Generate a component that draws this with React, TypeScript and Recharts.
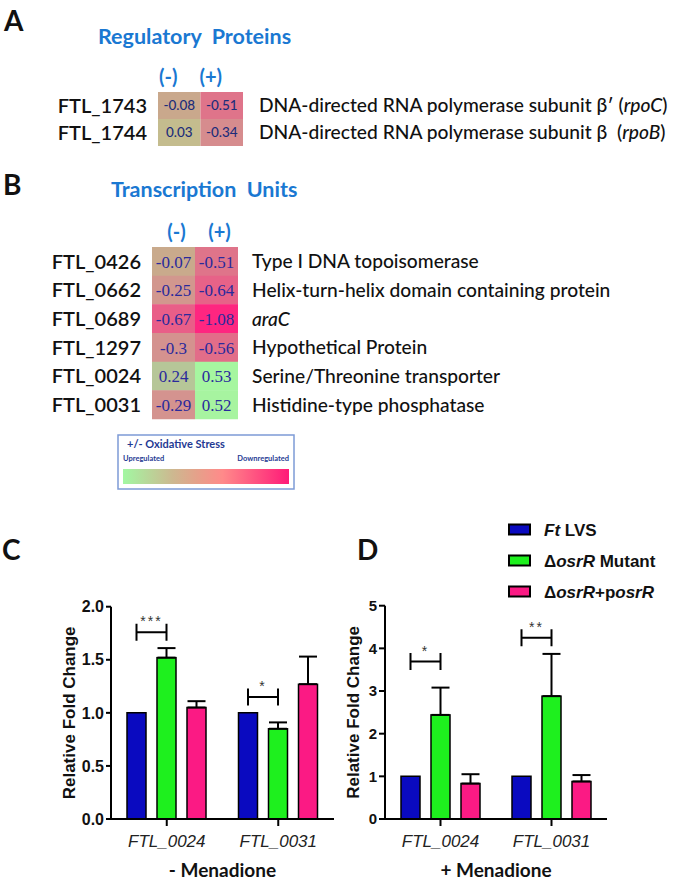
import React from "react";
import { BarChart, Bar, XAxis, YAxis, Cell, LabelList, ErrorBar } from "recharts";

const LATO = "Lato, 'Open Sans', sans-serif";
const ARIAL = "'Liberation Sans', Arial, sans-serif";
const SERIF = "'Liberation Serif', 'Times New Roman', serif";
const TITLE_BLUE = "#1a78d2";
const NAVY = "#1c2d7a";

// heat map columns
const stressCols = ["(-)", "(+)"];

// A - regulatory proteins (log fold change)
const regGenes = ["FTL_1743", "FTL_1744"];
const regMinus = [-0.08, 0.03];
const regPlus = [-0.51, -0.34];
const regDesc = [
  "DNA-directed RNA polymerase subunit β′ (*rpoC*)",
  "DNA-directed RNA polymerase subunit β  (*rpoB*)",
];

// B - transcription units
const tuGenes = ["FTL_0426", "FTL_0662", "FTL_0689", "FTL_1297", "FTL_0024", "FTL_0031"];
const tuMinus = [-0.07, -0.25, -0.67, -0.3, 0.24, -0.29];
const tuPlus = [-0.51, -0.64, -1.08, -0.56, 0.53, 0.52];
const tuDesc = [
  "Type I DNA topoisomerase",
  "Helix-turn-helix domain containing protein",
  "*araC*",
  "Hypothetical Protein",
  "Serine/Threonine transporter",
  "Histidine-type phosphatase",
];

// C / D - qPCR
const qGenes = ["FTL_0024", "FTL_0031"];
const strains = ["*Ft* LVS", "Δ*osrR* Mutant", "Δ*osrR*+p*osrR*"];
const strainColors = ["#0a0ac0", "#1ef01e", "#fb1a84"];

const cTicks = [0, 0.5, 1, 1.5, 2];
const cLvs = [1, 1];
const cMutant = [1.52, 0.85];
const cMutantErr = [0.09, 0.06];
const cComp = [1.05, 1.27];
const cCompErr = [0.06, 0.26];
const cSigY = [1.76, 1.15];
const cSig = ["***", "*"];

const dTicks = [0, 1, 2, 3, 4, 5];
const dLvs = [1, 1];
const dMutant = [2.44, 2.88];
const dMutantErr = [0.64, 0.99];
const dComp = [0.83, 0.88];
const dCompErr = [0.22, 0.15];
const dSigY = [3.69, 4.25];
const dSig = ["*", "**"];

const BAR_SIZE = 19;
const BAR_GAP = 11;

// colour ramp of the heat map (green = up, pink = down)
const heatStops: [number, number[]][] = [
  [0.53, [166, 246, 160]],
  [0.24, [182, 198, 152]],
  [0.03, [196, 188, 142]],
  [-0.08, [201, 168, 140]],
  [-0.3, [212, 146, 143]],
  [-0.51, [223, 116, 138]],
  [-0.67, [233, 94, 136]],
  [-1.08, [254, 38, 128]],
];

function heatColor(v: number) {
  if (v >= heatStops[0][0]) return `rgb(${heatStops[0][1].join(",")})`;
  for (let i = 0; i < heatStops.length - 1; i++) {
    const [v0, c0] = heatStops[i];
    const [v1, c1] = heatStops[i + 1];
    if (v <= v0 && v >= v1) {
      const t = (v0 - v) / (v0 - v1);
      const c = c0.map((a, j) => Math.round(a + (c1[j] - a) * t));
      return `rgb(${c.join(",")})`;
    }
  }
  return `rgb(${heatStops[heatStops.length - 1][1].join(",")})`;
}

const rich = (s: string) =>
  s.split("*").map((part, i) => (
    <tspan key={i} fontStyle={i % 2 ? "italic" : undefined}>
      {part}
    </tspan>
  ));

interface HeatProps {
  top: number;
  height: number;
  genes: string[];
  minus: number[];
  plus: number[];
  desc: string[];
  margin: { top: number; bottom: number };
  leftW: number;
  rightW: number;
  headDx: number;
  descDx: number;
  serifValues?: boolean;
}

function Heatmap(h: HeatProps) {
  const rows = h.genes.map((g, i) => ({
    gene: g,
    neg: 1,
    pos: 1,
    negVal: h.minus[i],
    posVal: h.plus[i],
  }));
  const valueStyle = h.serifValues
    ? { fontFamily: SERIF, fontSize: 17, fill: "#2a2a9c" }
    : { fontFamily: LATO, fontSize: 13.5, fill: NAVY, fontWeight: 500 };
  return (
    <div style={{ position: "absolute", left: 0, top: h.top }}>
      <BarChart
        layout="vertical"
        width={675}
        height={h.height}
        data={rows}
        margin={{ top: h.margin.top, bottom: h.margin.bottom, left: 0, right: 0 }}
        barCategoryGap={0}
      >
        <XAxis
          type="number"
          orientation="top"
          domain={[0, 2]}
          ticks={[0.5, 1.5]}
          axisLine={false}
          tickLine={false}
          height={30}
          tick={(p: any) => (
            <text
              x={p.x + h.headDx}
              y={p.y}
              textAnchor="middle"
              fontFamily={LATO}
              fontWeight={700}
              fontSize={20}
              fill={TITLE_BLUE}
            >
              {stressCols[Math.floor(p.payload.value)]}
            </text>
          )}
        />
        <YAxis
          type="category"
          dataKey="gene"
          width={h.leftW}
          axisLine={false}
          tickLine={false}
          tick={(p: any) => (
            <text
              x={p.x - 3}
              y={p.y}
              dy="0.36em"
              textAnchor="end"
              fontFamily={LATO}
              fontWeight={600}
              fontSize={20}
              fill="#111"
            >
              {p.payload.value}
            </text>
          )}
        />
        <YAxis
          yAxisId="desc"
          orientation="right"
          type="category"
          dataKey="gene"
          width={h.rightW}
          axisLine={false}
          tickLine={false}
          tick={(p: any) => (
            <text
              x={p.x + h.descDx}
              y={p.y}
              dy="0.36em"
              textAnchor="start"
              fontFamily={LATO}
              fontWeight={500}
              fontSize={19.2}
              fill="#111"
              style={{ whiteSpace: "pre" }}
            >
              {rich(h.desc[h.genes.indexOf(p.payload.value)] ?? "")}
            </text>
          )}
        />
        <Bar dataKey="neg" stackId="h" isAnimationActive={false}>
          {rows.map((r) => (
            <Cell key={r.gene + "n"} fill={heatColor(r.negVal)} />
          ))}
          <LabelList dataKey="negVal" position="center" {...valueStyle} />
        </Bar>
        <Bar dataKey="pos" stackId="h" isAnimationActive={false}>
          {rows.map((r) => (
            <Cell key={r.gene + "p"} fill={heatColor(r.posVal)} />
          ))}
          <LabelList dataKey="posVal" position="center" {...valueStyle} />
        </Bar>
      </BarChart>
    </div>
  );
}

interface FoldProps {
  left: number;
  top: number;
  width: number;
  height: number;
  margin: { top: number; right: number; bottom: number; left: number };
  yW: number;
  domain: [number, number];
  ticks: number[];
  fmt: (v: number) => string;
  tickSize: number;
  tickFont: number;
  lvs: number[];
  mutant: number[];
  mutantErr: number[];
  comp: number[];
  compErr: number[];
  sigY: number[];
  sig: string[];
  title: string;
  yTitleX: number;
}

function FoldChart(f: FoldProps) {
  const rows = qGenes.map((g, i) => ({
    gene: g,
    lvs: f.lvs[i],
    mutant: f.mutant[i],
    mutantErr: [0, f.mutantErr[i]],
    comp: f.comp[i],
    compErr: [0, f.compErr[i]],
    sigY: f.sigY[i],
    sig: f.sig[i],
  }));

  // green bar + significance bracket spanning to the LVS bar of the same group
  const MutantShape = (p: any) => {
    const { x, y, width, height, payload } = p;
    const k = height / payload.mutant;
    const yb = y + height - payload.sigY * k;
    const xr = x + width / 2;
    const xl = xr - width - BAR_GAP;
    return (
      <g>
        <rect x={x} y={y} width={width} height={height} fill={strainColors[1]} stroke="#000" strokeWidth={1.5} />
        <path
          d={`M${xl},${yb - 8.5}V${yb + 8.5}M${xl},${yb}H${xr}M${xr},${yb - 8.5}V${yb + 8.5}`}
          stroke="#000"
          strokeWidth={2}
          fill="none"
        />
        <text
          x={(xl + xr) / 2}
          y={yb - 6}
          textAnchor="middle"
          fontFamily={ARIAL}
          fontSize={14}
          letterSpacing={2}
          fill="#333"
        >
          {payload.sig}
        </text>
      </g>
    );
  };

  const axisStroke = { stroke: "#000", strokeWidth: 2 };

  return (
    <div style={{ position: "absolute", left: f.left, top: f.top }}>
      <BarChart
        width={f.width}
        height={f.height}
        data={rows}
        margin={f.margin}
        barSize={BAR_SIZE}
        barGap={BAR_GAP}
      >
        <XAxis
          dataKey="gene"
          height={58}
          axisLine={axisStroke}
          tickLine={axisStroke}
          tickSize={7}
          tickMargin={9}
          tick={{ fill: "#222", fontSize: 17, fontStyle: "italic", fontFamily: ARIAL }}
          label={{
            value: f.title,
            position: "insideBottom",
            offset: 0,
            fill: "#111",
            fontSize: 19,
            fontWeight: 700,
            fontFamily: LATO,
          }}
        />
        <YAxis
          width={f.yW}
          domain={f.domain}
          ticks={f.ticks}
          interval={0}
          tickFormatter={f.fmt}
          axisLine={axisStroke}
          tickLine={axisStroke}
          tickSize={f.tickSize}
          tickMargin={2}
          tick={{ fill: "#111", fontSize: f.tickFont, fontWeight: 700, fontFamily: ARIAL }}
          label={{
            content: (p: any) => {
              const vb = p.viewBox;
              const cx = vb.x + f.yTitleX;
              const cy = vb.y + vb.height / 2;
              return (
                <text
                  x={cx}
                  y={cy}
                  transform={`rotate(-90 ${cx} ${cy})`}
                  textAnchor="middle"
                  dominantBaseline="central"
                  fontFamily={ARIAL}
                  fontWeight={700}
                  fontSize={17}
                  fill="#111"
                >
                  Relative Fold Change
                </text>
              );
            },
          }}
        />
        <Bar dataKey="lvs" fill={strainColors[0]} stroke="#000" strokeWidth={1.5} isAnimationActive={false} />
        <Bar dataKey="mutant" fill={strainColors[1]} stroke="#000" strokeWidth={1.5} shape={MutantShape} isAnimationActive={false}>
          <ErrorBar dataKey="mutantErr" direction="y" width={9} stroke="#000" strokeWidth={2} />
        </Bar>
        <Bar dataKey="comp" fill={strainColors[2]} stroke="#000" strokeWidth={1.5} isAnimationActive={false}>
          <ErrorBar dataKey="compErr" direction="y" width={9} stroke="#000" strokeWidth={2} />
        </Bar>
      </BarChart>
    </div>
  );
}

export default function App() {
  return (
    <div style={{ position: "absolute", left: 0, top: 0, width: 675, height: 884, background: "#fff", overflow: "hidden" }}>
      <Heatmap
        top={0}
        height={160}
        genes={regGenes}
        minus={regMinus}
        plus={regPlus}
        desc={regDesc}
        margin={{ top: 62, bottom: 14 }}
        leftW={158}
        rightW={432}
        headDx={-11}
        descDx={8}
      />
      <Heatmap
        top={160}
        height={270}
        genes={tuGenes}
        minus={tuMinus}
        plus={tuPlus}
        desc={tuDesc}
        margin={{ top: 57, bottom: 11 }}
        leftW={152}
        rightW={437}
        headDx={3}
        descDx={6}
        serifValues
      />
      <FoldChart
        left={0}
        top={560}
        width={340}
        height={324}
        margin={{ top: 46.7, right: 6, bottom: 7, left: 0 }}
        yW={111}
        domain={[0, 2]}
        ticks={cTicks}
        fmt={(v) => v.toFixed(1)}
        tickSize={5}
        tickFont={16}
        lvs={cLvs}
        mutant={cMutant}
        mutantErr={cMutantErr}
        comp={cComp}
        compErr={cCompErr}
        sigY={cSigY}
        sig={cSig}
        title="- Menadione"
        yTitleX={70}
      />
      <FoldChart
        left={330}
        top={500}
        width={345}
        height={384}
        margin={{ top: 105.7, right: 68, bottom: 7, left: 0 }}
        yW={55}
        domain={[0, 5]}
        ticks={dTicks}
        fmt={(v) => String(v)}
        tickSize={6}
        tickFont={15}
        lvs={dLvs}
        mutant={dMutant}
        mutantErr={dMutantErr}
        comp={dComp}
        compErr={dCompErr}
        sigY={dSigY}
        sig={dSig}
        title="+ Menadione"
        yTitleX={24}
      />
      <svg width={675} height={884} style={{ position: "absolute", left: 0, top: 0, pointerEvents: "none" }}>
        <defs>
          <linearGradient id="stressRamp" x1="0" x2="1" y1="0" y2="0">
            <stop offset="0%" stopColor="#a2f7a2" />
            <stop offset="30%" stopColor="#cdb890" />
            <stop offset="45%" stopColor="#e6a08a" />
            <stop offset="60%" stopColor="#ff8a8a" />
            <stop offset="100%" stopColor="#ff1a78" />
          </linearGradient>
        </defs>
        <g fontFamily={LATO} fontWeight={700}>
          <text x={4} y={31} fontSize={28} fill="#111">A</text>
          <text x={98} y={44} fontSize={21.5} fill={TITLE_BLUE} style={{ whiteSpace: "pre" }}>Regulatory  Proteins</text>
          <text x={3} y={195} fontSize={28} fill="#111">B</text>
          <text x={111} y={197} fontSize={21.5} fill={TITLE_BLUE} style={{ whiteSpace: "pre" }}>Transcription  Units</text>
          <text x={2} y={560} fontSize={28} fill="#111">C</text>
          <text x={357} y={560} fontSize={28} fill="#111">D</text>
        </g>
        <g>
          <rect x={118} y={435} width={176} height={54} fill="#fff" stroke="#7d9bd6" strokeWidth={1.5} />
          <text x={127} y={448} fontFamily={LATO} fontWeight={700} fontSize={11} fill="#1f3a93">+/- Oxidative Stress</text>
          <text x={123} y={461} fontFamily={LATO} fontWeight={700} fontSize={7.5} fill="#1f3a93">Upregulated</text>
          <text x={289} y={461} textAnchor="end" fontFamily={LATO} fontWeight={700} fontSize={7.5} fill="#1f3a93">Downregulated</text>
          <rect x={123} y={469} width={166} height={15} fill="url(#stressRamp)" />
        </g>
        <g fontFamily={ARIAL} fontWeight={700} fontSize={17} fill="#111">
          {strains.map((s, i) => (
            <g key={s}>
              <rect x={509} y={524.5 + i * 31} width={21} height={10} fill={strainColors[i]} stroke="#000" strokeWidth={2} />
              <text x={544} y={535.5 + i * 31} style={{ whiteSpace: "pre" }}>{rich(s)}</text>
            </g>
          ))}
        </g>
      </svg>
    </div>
  );
}
